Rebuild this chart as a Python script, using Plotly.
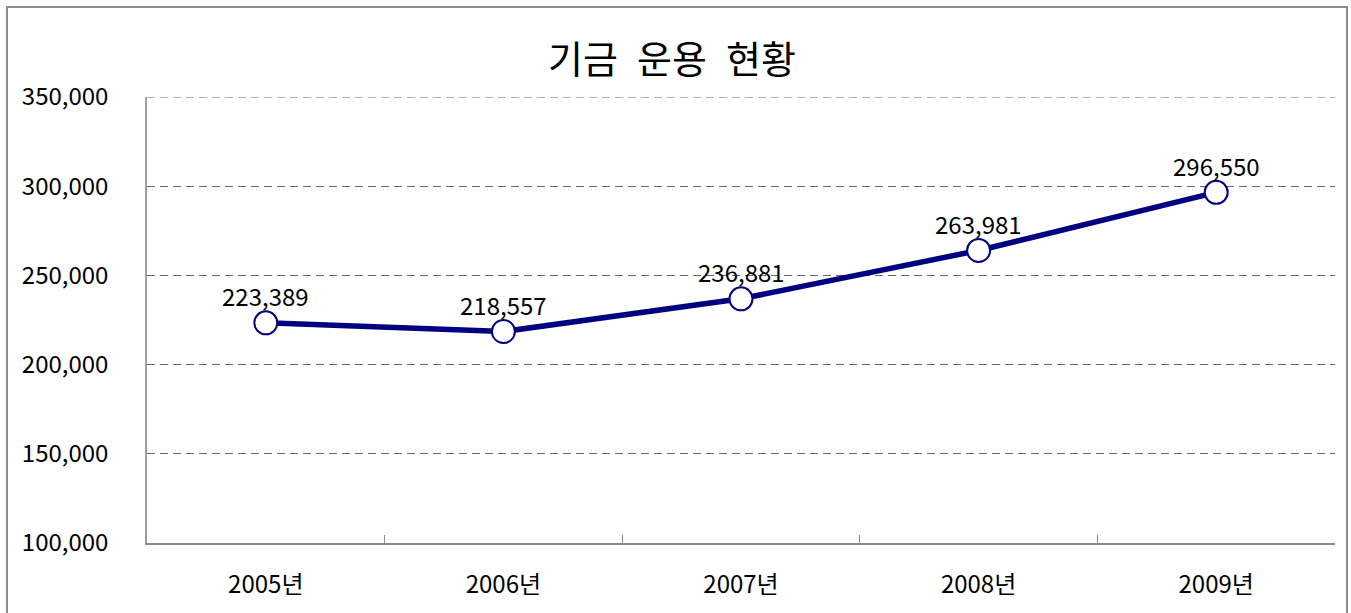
import plotly.graph_objects as go

years = ["2005년", "2006년", "2007년", "2008년", "2009년"]
values = [223389, 218557, 236881, 263981, 296550]
labels = ["223,389", "218,557", "236,881", "263,981", "296,550"]
y_ticks = [100000, 150000, 200000, 250000, 300000, 350000]
y_tick_text = ["100,000", "150,000", "200,000", "250,000", "300,000", "350,000"]

FONT = "Noto Sans CJK KR"
W, H = 1351, 613
L, R, T, B = 147, 16, 97, 70

fig = go.Figure()
fig.add_trace(go.Scatter(
    x=years, y=values, mode="lines+markers",
    line=dict(color="#000080", width=5.5),
    marker=dict(size=23, color="#ffffff", line=dict(color="#000080", width=2)),
    cliponaxis=False, showlegend=False, hoverinfo="skip",
))
for xv, yv, tv in zip(years, values, labels):
    fig.add_annotation(x=xv, y=yv, text=tv, showarrow=False, yshift=27,
                       font=dict(family=FONT, size=24, color="#000000"))

pw = W - L - R
ph = H - T - B
def px_x(x):
    return (x - L) / pw
def px_y(y):
    return (H - B - y) / ph

# top gridline (hidden by plotly at the range edge)
fig.add_shape(type="line", xref="paper", yref="y", x0=0, x1=1,
              y0=y_ticks[-1], y1=y_ticks[-1],
              line=dict(color="#666666", width=1, dash="8px,5px"), layer="below")

fig.add_shape(type="rect", xref="paper", yref="paper",
              x0=px_x(7), x1=px_x(1347), y0=px_y(640), y1=px_y(7),
              line=dict(color="#8c8c8c", width=2), fillcolor="rgba(0,0,0,0)")

fig.update_layout(
    width=W, height=H,
    margin=dict(l=L, r=R, t=T, b=B),
    paper_bgcolor="#ffffff", plot_bgcolor="#ffffff",
    font=dict(family=FONT, size=24, color="#000000"),
    title=dict(text="기금\u2002운용\u2002현황", x=672 / W, xref="container", xanchor="center",
               y=1 - 60 / H, yref="container", yanchor="middle",
               font=dict(family=FONT, size=38, color="#000000")),
)
fig.update_xaxes(
    range=[-0.5, len(years) - 0.5],
    showline=True, linecolor="#8c8c8c", linewidth=1.5,
    showgrid=False, zeroline=False,
    tickson="boundaries", ticks="inside", ticklen=8, tickcolor="#8c8c8c",
    ticklabelstandoff=19,
    tickfont=dict(family=FONT, size=24),
)
fig.update_yaxes(
    range=[100000, 350000], tickvals=y_ticks, ticktext=y_tick_text,
    showline=True, linecolor="#a0a0a0", linewidth=1.5,
    showgrid=True, gridcolor="#666666", gridwidth=1, griddash="8px,5px",
    zeroline=False, ticks="", ticklabelstandoff=32,
    tickfont=dict(family=FONT, size=24),
)

fig.write_html("out.html", config={"displayModeBar": False},
               post_script="document.body.style.margin='0';document.body.style.overflow='hidden';")
